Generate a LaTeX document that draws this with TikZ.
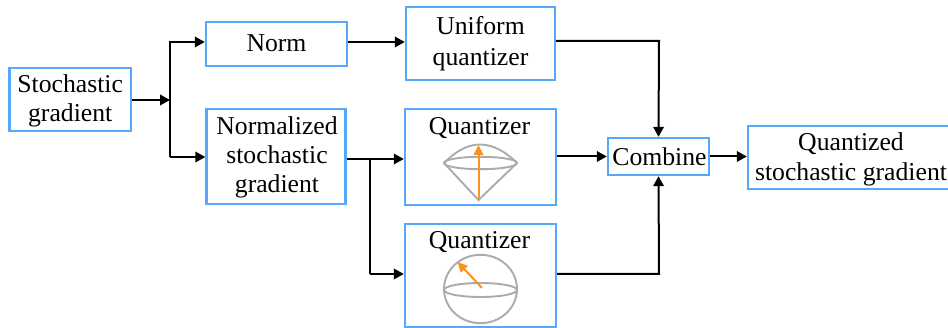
\documentclass[tikz,border=0pt]{standalone}
\usepackage{fontspec}
\setmainfont{Liberation Serif}
\usetikzlibrary{arrows.meta}
\definecolor{boxblue}{HTML}{55A8FA}
\definecolor{sphgrey}{HTML}{ABABAB}
\definecolor{arrorange}{HTML}{F7931E}
\tikzset{
  boxnode/.style={draw=boxblue,line width=2.4pt,fill=white,inner sep=0pt,anchor=center},
  txt/.style={inner sep=0pt,align=center,font=\fontsize{25.7}{29.2}\selectfont,text=black},
  conn/.style={line width=2pt,draw=black,line join=miter},
  tip/.style={conn,-{Triangle[length=10pt,width=10.5pt]}},
  sph/.style={line width=1.9pt,draw=sphgrey},
  ora/.style={line width=2pt,draw=arrorange,-{Triangle[length=10pt,width=9.5pt]}},
}
\begin{document}
\begin{tikzpicture}[x=1pt,y=-1pt]
\useasboundingbox (0,0) rectangle (948,328);
% boxes
\node[boxnode,minimum width=121.5pt,minimum height=63pt] (stoch) at (70.2,99.5) {};
\node[boxnode,minimum width=141pt,minimum height=44pt] (norm) at (276.5,44) {};
\node[boxnode,minimum width=139pt,minimum height=95pt] (nsg) at (276,156.5) {};
\node[boxnode,minimum width=149pt,minimum height=73pt] (unif) at (480.5,43.5) {};
\node[boxnode,minimum width=151pt,minimum height=96.5pt] (qa) at (480.5,157) {};
\node[boxnode,minimum width=151pt,minimum height=103pt] (qb) at (480.5,275.5) {};
\node[boxnode,minimum width=101pt,minimum height=37pt] (comb) at (658.5,156.5) {};
\node[boxnode,minimum width=204pt,minimum height=63pt] (out) at (850,157.5) {};
% labels
\node[txt] (stochl) at (70.2,101) {Stochastic\\gradient};
\node[txt] (norml) at (276.5,43) {Norm};
\node[txt] (nsgl) at (277,157.5) {Normalized\\stochastic\\gradient};
\node[txt,font=\fontsize{25.7}{30.5}\selectfont] (unifl) at (480.5,43.5) {Uniform\\quantizer};
\node[txt] (qal) at (479.5,128) {Quantizer};
\node[txt] (qbl) at (479.5,242) {Quantizer};
\node[txt] (combl) at (659.5,157) {Combine};
\node[txt,font=\fontsize{25.7}{30}\selectfont] (outl) at (851,159) {Quantized\\stochastic gradient};
% routing points
\coordinate (ja) at (170,100);
\coordinate (jt) at (170,42);
\coordinate (jb) at (170,157);
\coordinate (ka) at (370,159);
\coordinate (kb) at (370,274);
\coordinate (ua) at (659,41);
\coordinate (ub) at (659,274);
% connectors
\draw[tip] (stoch.east |- ja) -- (ja);
\draw[tip] (jb) -- (jt) -- (norm.west |- jt);
\draw[tip] (jb) -- (nsg.west |- jb);
\draw[tip] (norm.east |- jt) -- (unif.west |- jt);
\draw[tip] (unif.east |- ua) -- (ua) -- (comb.north);
\draw[tip] (nsg.east |- ka) -- (qa.west |- ka);
\draw[conn] (ka) -- (kb);
\draw[tip] (kb) -- (qb.west |- kb);
\draw[tip] (qa.east |- comb) -- (comb.west);
\draw[tip] (qb.east |- ub) -- (ub) -- (comb.south);
\draw[tip] (comb.east) -- (out.west |- comb);
% cone glyph
\coordinate (capl) at (444,163);
\coordinate (capr) at (517,163);
\coordinate (apex) at (478.5,200);
\coordinate (cone) at (480.5,163);
\coordinate (capt) at (478.5,145);
\draw[sph] (cone) ellipse [x radius=36.5pt,y radius=6.2pt];
\draw[sph] (capl) .. controls (454,153) and (466,144.5) .. (480,144.5) .. controls (494,144.5) and (507,153) .. (capr);
\draw[sph] (capl) -- (apex) -- (capr);
\draw[ora] (apex) -- (capt);
% sphere glyph
\coordinate (sphc) at (480.5,289);
\coordinate (eqc) at (480.5,290);
\coordinate (arra) at (482,288);
\coordinate (arrb) at (457.5,262);
\draw[sph] (sphc) ellipse [x radius=36.5pt,y radius=34.2pt];
\draw[sph] (eqc) ellipse [x radius=36.5pt,y radius=7pt];
\draw[ora] (arra) -- (arrb);
\end{tikzpicture}
\end{document}
